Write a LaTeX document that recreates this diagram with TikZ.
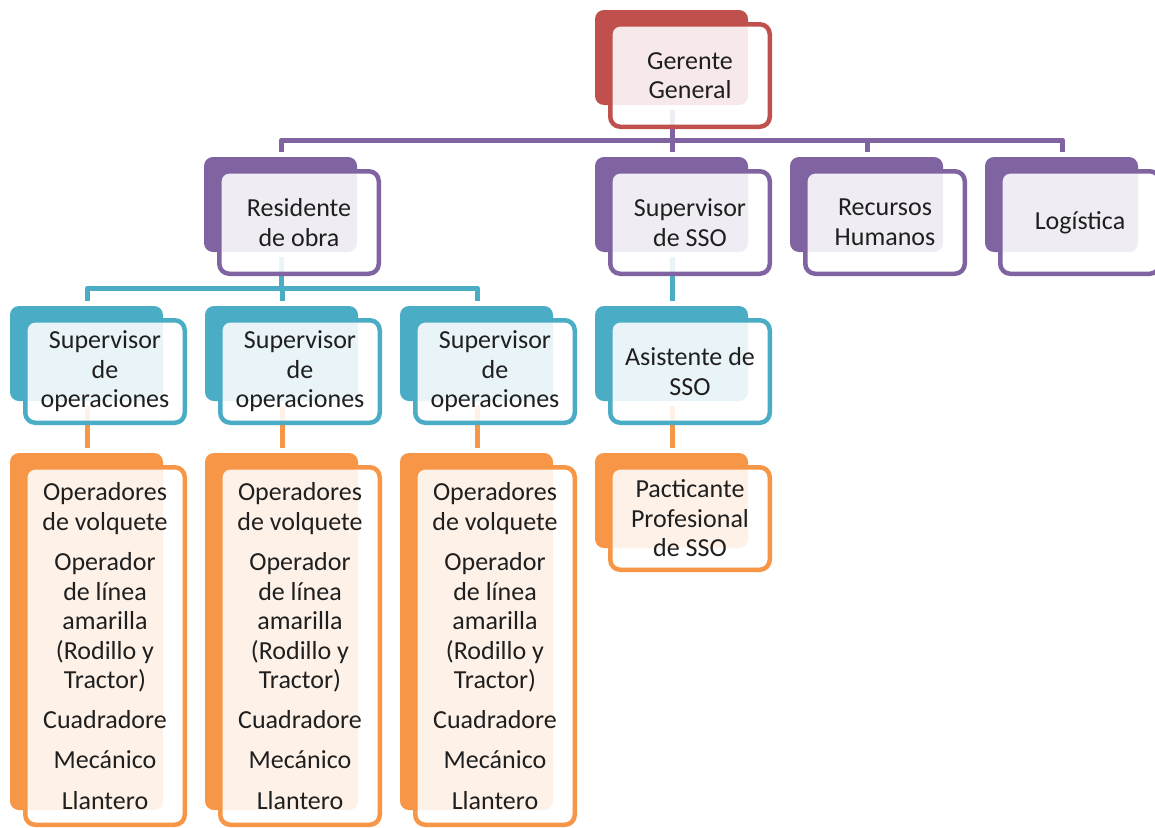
\documentclass[tikz,border=0pt]{standalone}
\usepackage{fontspec}
\setmainfont{Carlito}
\usetikzlibrary{calc,backgrounds}
\definecolor{cred}{HTML}{C0504D}
\definecolor{cpur}{HTML}{8064A2}
\definecolor{cteal}{HTML}{4BACC6}
\definecolor{corg}{HTML}{F79646}
\definecolor{ctext}{HTML}{1F1F1F}
\tikzset{
  backbox/.style={draw=none, fill=#1, rounded corners=9pt, minimum width=153pt,
    minimum height=95pt, anchor=north west, inner sep=0pt, outer sep=0pt},
  frontbox/.style={draw=#1, line width=4.5pt, fill=white, fill opacity=0.88,
    text opacity=1, rounded corners=10pt, minimum width=159.5pt,
    minimum height=102.5pt, anchor=north west, inner sep=0pt, align=center,
    text=ctext, font=\fontsize{26}{29.5}\selectfont},
  tallback/.style={backbox=#1, minimum height=357pt},
  tallfront/.style={frontbox=#1, minimum height=357.5pt},
  conn/.style={draw=#1, line width=5pt, line join=round},
}
\begin{document}
\begin{tikzpicture}[x=1pt,y=-1pt]
\path[use as bounding box] (0,0) rectangle (1155,827);
\clip (0,0) rectangle (1155,827);
% level 1
\node[backbox=cred] (gb) at (595,10) {};
\node[frontbox=cred] (g) at (608,22) {Gerente\\General};
% level 2
\node[backbox=cpur] (rb) at (204,157) {};
\node[frontbox=cpur] (r) at (217,169) {Residente\\de obra};
\node[backbox=cpur] (sb) at (595,157) {};
\node[frontbox=cpur] (s) at (608,169) {Supervisor\\de SSO};
\node[backbox=cpur] (hb) at (790,157) {};
\node[frontbox=cpur] (h) at (803,169) {Recursos\\Humanos};
\node[backbox=cpur] (lb) at (985,157) {};
\node[frontbox=cpur] (l) at (998,169) {Logística};
% level 3
\node[backbox=cteal] (o1b) at (10,306) {};
\node[frontbox=cteal] (o1) at (23,318) {Supervisor\\de\\operaciones};
\node[backbox=cteal] (o2b) at (205,306) {};
\node[frontbox=cteal] (o2) at (218,318) {Supervisor\\de\\operaciones};
\node[backbox=cteal] (o3b) at (400,306) {};
\node[frontbox=cteal] (o3) at (413,318) {Supervisor\\de\\operaciones};
\node[backbox=cteal] (ab) at (595,306) {};
\node[frontbox=cteal] (a) at (608,318) {Asistente de\\SSO};
% level 4
\node[tallback=corg] (w1b) at (10,453) {};
\node[tallfront=corg] (w1) at (23,465) {Operadores\\de volquete\\[11pt]Operador\\de línea\\amarilla\\(Rodillo y\\Tractor)\\[10pt]Cuadradore\\[11pt]Mecánico\\[11pt]Llantero};
\node[tallback=corg] (w2b) at (205,453) {};
\node[tallfront=corg] (w2) at (218,465) {Operadores\\de volquete\\[11pt]Operador\\de línea\\amarilla\\(Rodillo y\\Tractor)\\[10pt]Cuadradore\\[11pt]Mecánico\\[11pt]Llantero};
\node[tallback=corg] (w3b) at (400,453) {};
\node[tallfront=corg] (w3) at (413,465) {Operadores\\de volquete\\[11pt]Operador\\de línea\\amarilla\\(Rodillo y\\Tractor)\\[10pt]Cuadradore\\[11pt]Mecánico\\[11pt]Llantero};
\node[backbox=corg] (pb) at (595,453) {};
\node[frontbox=corg] (p) at (608,465) {Pacticante\\Profesional\\de SSO};
% connectors
\begin{scope}[on background layer]
\fill[white] (0,0) rectangle (1155,827);
\draw[conn=cpur] ($(gb.south)+(1,5)$) -- ($(gb.south)+(1,35)$);
\draw[conn=cpur] ($(rb.north)+(1,-5)$) |- ($(lb.north)+(1,-17)$) -- ($(lb.north)+(1,-5)$);
\draw[conn=cpur] ($(sb.north)+(1,-17)$) -- ($(sb.north)+(1,-5)$);
\draw[conn=cpur] ($(hb.north)+(1,-17)$) -- ($(hb.north)+(1,-5)$);
\draw[conn=cteal] ($(rb.south)+(1,5)$) -- ($(rb.south)+(1,36)$);
\draw[conn=cteal] ($(o1b.north)+(1,-5)$) |- ($(o3b.north)+(1,-18)$) -- ($(o3b.north)+(1,-5)$);
\draw[conn=cteal] ($(o2b.north)+(1,-18)$) -- ($(o2b.north)+(1,-5)$);
\draw[conn=cteal] ($(sb.south)+(1,5)$) -- ($(ab.north)+(1,-5)$);
\draw[conn=corg] ($(o1b.south)+(1,5)$) -- ($(w1b.north)+(1,-5)$);
\draw[conn=corg] ($(o2b.south)+(1,5)$) -- ($(w2b.north)+(1,-5)$);
\draw[conn=corg] ($(o3b.south)+(1,5)$) -- ($(w3b.north)+(1,-5)$);
\draw[conn=corg] ($(ab.south)+(1,5)$) -- ($(pb.north)+(1,-5)$);
\end{scope}
\end{tikzpicture}
\end{document}
